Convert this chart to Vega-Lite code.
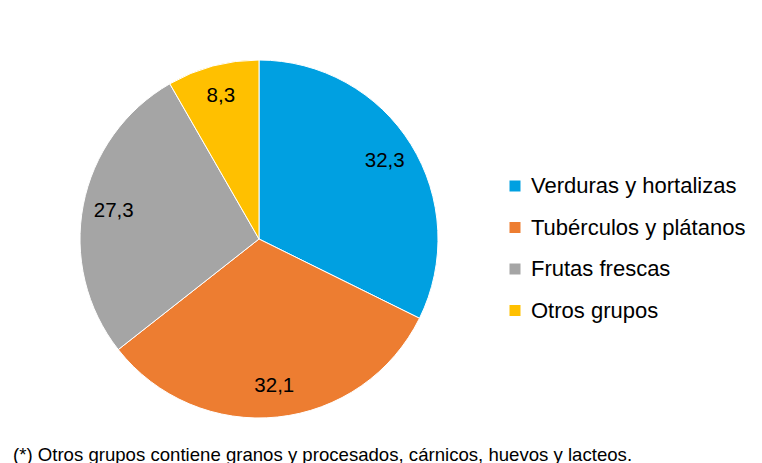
{
  "$schema": "https://vega.github.io/schema/vega-lite/v6.json",
  "width": 358,
  "height": 358,
  "autosize": {"type": "none"},
  "padding": {"left": 80, "top": 60, "right": 324, "bottom": 45},
  "background": "white",
  "data": {
    "values": [
      {"grupo": "Verduras y hortalizas", "valor": 32.3, "orden": 1},
      {"grupo": "Tubérculos y plátanos", "valor": 32.1, "orden": 2},
      {"grupo": "Frutas frescas", "valor": 27.3, "orden": 3},
      {"grupo": "Otros grupos", "valor": 8.3, "orden": 4}
    ]
  },
  "title": {
    "text": "(*) Otros grupos contiene granos y procesados, cárnicos, huevos y lacteos.",
    "orient": "bottom",
    "anchor": "start",
    "baseline": "alphabetic",
    "dx": -65,
    "offset": 41,
    "font": "Liberation Sans",
    "fontSize": 18.6,
    "fontWeight": "normal",
    "color": "#000000"
  },
  "encoding": {
    "theta": {"field": "valor", "type": "quantitative", "stack": true},
    "order": {"field": "orden", "type": "quantitative"},
    "color": {
      "field": "grupo",
      "type": "nominal",
      "sort": ["Verduras y hortalizas", "Tubérculos y plátanos", "Frutas frescas", "Otros grupos"],
      "scale": {
        "domain": ["Verduras y hortalizas", "Tubérculos y plátanos", "Frutas frescas", "Otros grupos"],
        "range": ["#00A0E1", "#ED7D31", "#A5A5A5", "#FFC000"]
      },
      "legend": {
        "title": null,
        "orient": "none",
        "legendX": 424,
        "legendY": 115,
        "symbolType": "square",
        "symbolSize": 121,
        "symbolStrokeWidth": 0,
        "labelFont": "Liberation Sans",
        "labelFontSize": 22,
        "labelColor": "#000000",
        "labelOffset": 5,
        "rowPadding": 19.5,
        "labelLimit": 400
      }
    }
  },
  "layer": [
    {
      "mark": {"type": "arc", "stroke": "white", "strokeWidth": 1}
    },
    {
      "mark": {"type": "text", "font": "Liberation Sans", "fontSize": 20.5, "color": "#000000"},
      "encoding": {
        "radius": {"value": 148},
        "text": {"field": "valor", "type": "quantitative", "format": ".1f"},
        "color": {"value": "#000000"}
      }
    }
  ],
  "config": {
    "view": {"stroke": null},
    "locale": {"number": {"decimal": ",", "thousands": ".", "grouping": [3], "currency": ["", " €"]}}
  }
}
